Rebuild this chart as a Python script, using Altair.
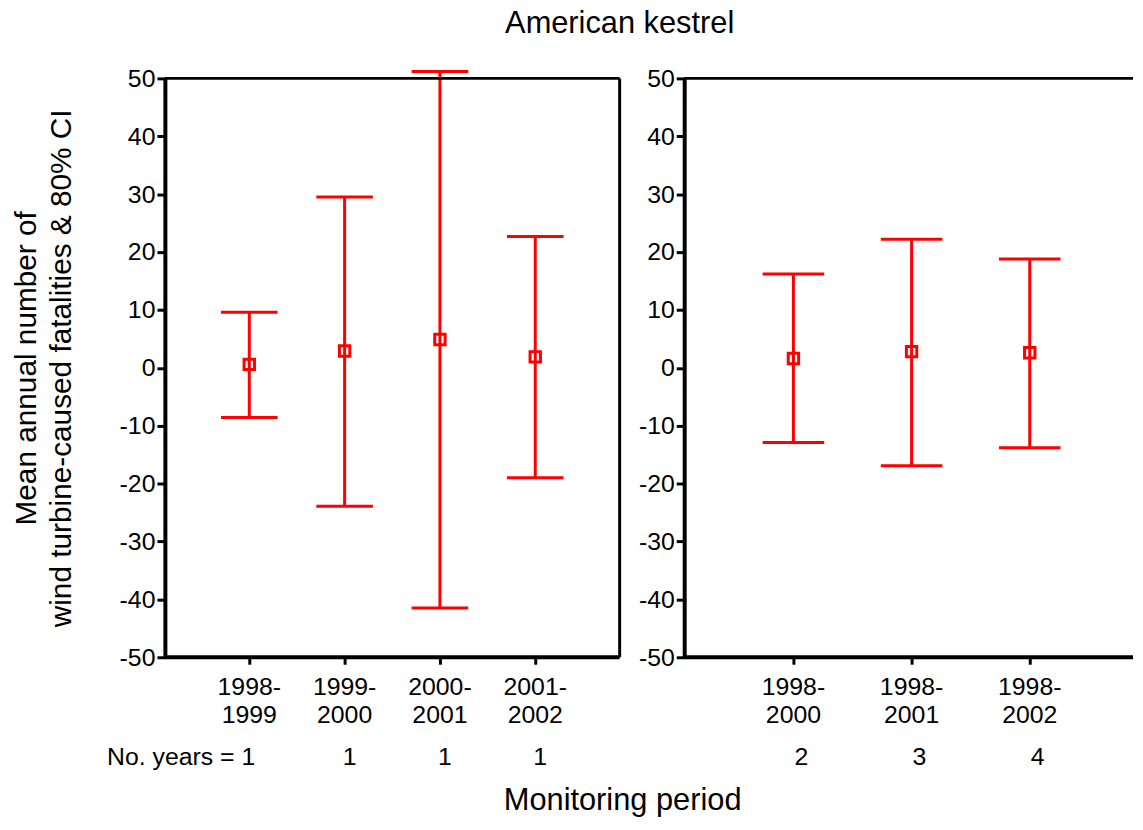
import altair as alt
import pandas as pd

# ---- data ----
left_periods = ["1998-1999", "1999-2000", "2000-2001", "2001-2002"]
left_mean = [0.6, 2.9, 4.9, 1.9]
left_lower = [-8.6, -23.9, -41.5, -19.0]
left_upper = [9.6, 29.5, 51.2, 22.7]
left_years = [1, 1, 1, 1]

right_periods = ["1998-2000", "1998-2001", "1998-2002"]
right_mean = [1.6, 2.8, 2.6]
right_lower = [-12.9, -16.9, -13.8]
right_upper = [16.2, 22.2, 18.8]
right_years = [2, 3, 4]

y_ticks = [-50, -40, -30, -20, -10, 0, 10, 20, 30, 40, 50]

FONT = "Liberation Sans"
RED = "#ff0000"
H = 583
WL = 458
WR = 452

left_df = pd.DataFrame({"period": left_periods, "mean": left_mean,
                        "lower": left_lower, "upper": left_upper,
                        "years": left_years})
left_df["label"] = [("No. years = %d" % v) if i == 0 else str(v) for i, v in enumerate(left_years)]
right_df = pd.DataFrame({"period": right_periods, "mean": right_mean,
                         "lower": right_lower, "upper": right_upper,
                         "years": right_years})
right_df["label"] = [str(v) for v in right_years]

one = pd.DataFrame({"k": [0]})


def y_enc(field, title=None):
    axis = alt.Axis(values=y_ticks, tickSize=8, tickWidth=3, tickColor="black",
                    domainWidth=4, domainColor="black", labelFontSize=25,
                    labelFont=FONT, labelColor="black", labelPadding=2,
                    labelExpr="'' + datum.value",
                    grid=False, title=title, titleFont=FONT, titleFontSize=30,
                    titleFontWeight="normal", titleColor="black",
                    titleLineHeight=35, titlePadding=43)
    return alt.Y(field + ":Q", scale=alt.Scale(domain=[-50, 50], nice=False, zero=False), axis=axis)


def x_enc(periods, rng):
    return alt.X("period:N", sort=list(periods), scale=alt.Scale(range=rng),
                 axis=alt.Axis(title=None, domain=False, tickSize=7, tickWidth=3,
                               tickColor="black", labelAngle=0,
                               labelExpr="[substring(datum.label,0,5), substring(datum.label,5)]",
                               labelFontSize=25, labelFont=FONT, labelColor="black",
                               labelLineHeight=28, labelPadding=11))


def panel(df, width, rng, ytitle, cap, dx_num, extra):
    x = x_enc(df["period"], rng)
    base = alt.Chart(df)
    rule = base.mark_rule(color=RED, strokeWidth=3).encode(x=x, y=y_enc("lower", ytitle), y2="upper:Q")
    cap_lo = base.mark_tick(color=RED, size=cap, thickness=3, opacity=1).encode(x=x, y=y_enc("lower", ytitle))
    cap_hi = base.mark_tick(color=RED, size=cap, thickness=3, opacity=1).encode(x=x, y=y_enc("upper", ytitle))
    pts = base.mark_point(shape="square", filled=False, size=110, strokeWidth=3,
                          color=RED, opacity=1).encode(x=x, y=y_enc("mean", ytitle))
    nums = base.mark_text(font=FONT, fontSize=25, color="black", align="center",
                          baseline="alphabetic", dx=dx_num).encode(
        x=x, y=alt.value(691), text="label:N")
    top = alt.Chart(one).mark_rule(color="black", strokeWidth=3).encode(
        x=alt.value(0), x2=alt.value(width), y=alt.value(0))
    bottom = alt.Chart(one).mark_rule(color="black", strokeWidth=4).encode(
        x=alt.value(0), x2=alt.value(width), y=alt.value(H))
    layers = [rule, cap_lo, cap_hi, pts, nums, top, bottom] + extra
    return alt.layer(*layers).properties(width=width, height=H)


LEFT_RANGE = [37, 421]
RIGHT_RANGE = [50.5, 407.5]

left_extra = [
    alt.Chart(one).mark_rule(color="black", strokeWidth=3).encode(
        x=alt.value(WL), y=alt.value(0), y2=alt.value(H)),
    alt.Chart(one).mark_text(text="American kestrel", font=FONT, fontSize=31,
                             color="black", align="center", baseline="alphabetic").encode(
        x=alt.value(458), y=alt.value(-46)),
    alt.Chart(one).mark_text(text="Monitoring period", font=FONT, fontSize=31,
                             color="black", align="center", baseline="alphabetic").encode(
        x=alt.value(461), y=alt.value(737)),
    alt.Chart(left_df.iloc[[0]]).mark_text(
        font=FONT, fontSize=25, color="black", align="right",
        baseline="alphabetic", dx=6).encode(
        x=x_enc(left_periods, LEFT_RANGE), y=alt.value(691), text="label:N"),
]

left = panel(left_df.assign(label=["", "1", "1", "1"]), WL, LEFT_RANGE,
             ["Mean annual number of", "wind turbine-caused fatalities & 80% CI"],
             57, 5, left_extra)

right = panel(right_df, WR, RIGHT_RANGE, None, 62, 8, [])

chart = alt.hconcat(left, right, spacing=65, bounds="flush").properties(
    padding={"left": 3, "top": -3, "right": 0, "bottom": 0}
).configure_view(stroke=None).configure_axis(grid=False)

chart.save("out.html", embed_options={"renderer": "svg", "actions": False})
